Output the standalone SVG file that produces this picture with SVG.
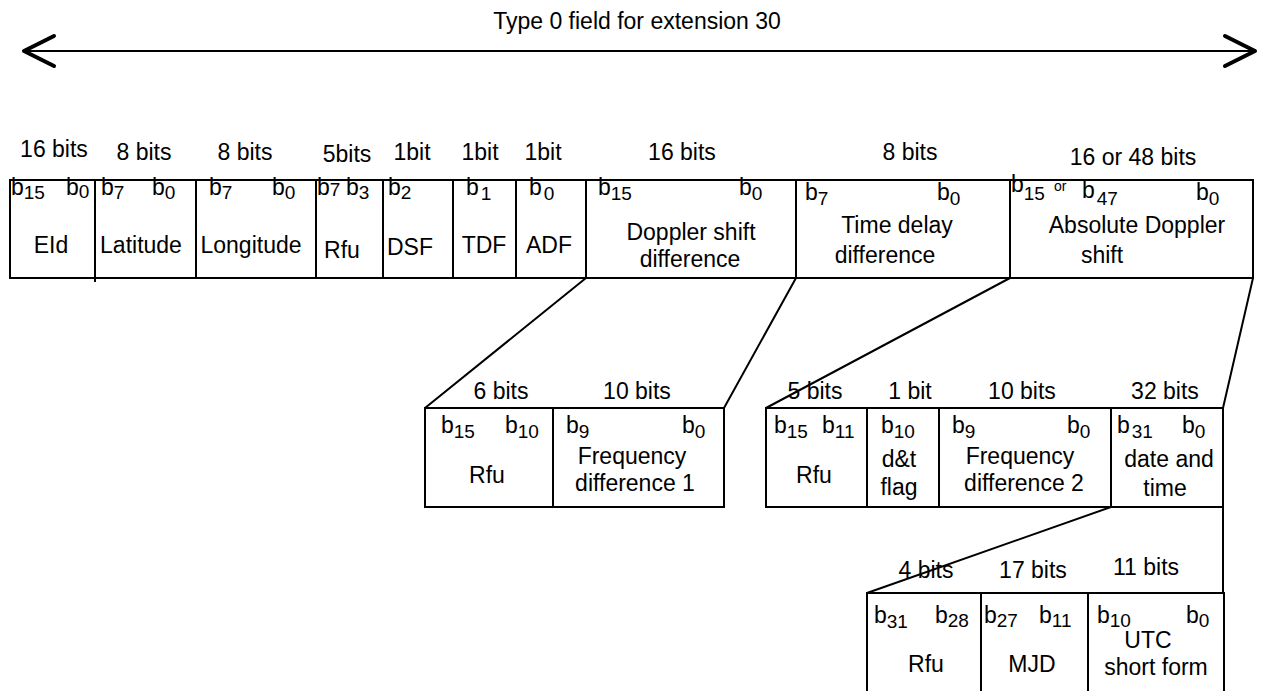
<svg xmlns="http://www.w3.org/2000/svg" width="1261" height="691" viewBox="0 0 1261 691">
<style>
text{font-family:"Liberation Sans",Arial,sans-serif;font-size:23px;fill:#000}
.m{text-anchor:middle}
.s{font-size:19px}
.o{font-size:14px}
.b{fill:none;stroke:#000;stroke-width:2}
.c{fill:none;stroke:#000;stroke-width:2}
.h{fill:none;stroke:#000;stroke-width:4;stroke-linecap:round;stroke-linejoin:round}
</style>
<g id="title">
<text class="m" x="637" y="29">Type 0 field for extension 30</text>
<line x1="25" y1="51" x2="1253" y2="51" stroke="#000" stroke-width="2"/>
<polyline class="h" points="54,36 24,51 54,66"/>
<polyline class="h" points="1225,36 1255,51 1225,66"/>
</g>
<g id="row1">
<rect class="b" x="10" y="180" width="1243" height="98"/>
<path class="b" d="M95,180V282M196,180V278M316,180V278M383,180V278M453,180V278M516,180V278M586,180V278M796,180V278M1010,180V278"/>
<text class="m" x="54" y="157">16 bits</text>
<text class="m" x="144" y="160">8 bits</text>
<text class="m" x="245" y="160">8 bits</text>
<text class="m" x="347" y="162">5bits</text>
<text class="m" x="412" y="160">1bit</text>
<text class="m" x="480" y="160">1bit</text>
<text class="m" x="543" y="160">1bit</text>
<text class="m" x="682" y="160">16 bits</text>
<text class="m" x="910" y="160">8 bits</text>
<text class="m" x="1133" y="165">16 or 48 bits</text>
</g>
<g id="eid">
<text x="11" y="195">b<tspan class="s" dy="4">15</tspan></text>
<text x="66" y="195">b<tspan class="s" dy="3">0</tspan></text>
<text class="m" x="51" y="253">EId</text>
</g>
<g id="lat">
<text x="101" y="195">b<tspan class="s" dy="4">7</tspan></text>
<text x="152" y="195">b<tspan class="s" dy="4">0</tspan></text>
<text class="m" x="141" y="253">Latitude</text>
</g>
<g id="lon">
<text x="209" y="195">b<tspan class="s" dy="4">7</tspan></text>
<text x="272" y="195">b<tspan class="s" dy="4">0</tspan></text>
<text class="m" x="251" y="253">Longitude</text>
</g>
<g id="rfu1">
<text x="317" y="195">b<tspan class="s" dy="1">7</tspan></text>
<text x="346" y="195">b<tspan class="s" dy="4">3</tspan></text>
<text class="m" x="342" y="258">Rfu</text>
</g>
<g id="dsf">
<text x="388" y="195">b<tspan class="s" dy="4">2</tspan></text>
<text class="m" x="410" y="255">DSF</text>
</g>
<g id="tdf">
<text x="466" y="195">b<tspan class="s" dx="2" dy="5">1</tspan></text>
<text class="m" x="484" y="253">TDF</text>
</g>
<g id="adf">
<text x="529" y="195">b<tspan class="s" dx="2" dy="5">0</tspan></text>
<text class="m" x="549" y="253">ADF</text>
</g>
<g id="dsd">
<text x="598" y="195">b<tspan class="s" dy="5">15</tspan></text>
<text x="739" y="195">b<tspan class="s" dy="5">0</tspan></text>
<text class="m" x="691" y="240">Doppler shift</text>
<text class="m" x="690" y="267">difference</text>
</g>
<g id="tdd">
<text x="805" y="200">b<tspan class="s" dy="5">7</tspan></text>
<text x="937" y="200">b<tspan class="s" dy="5">0</tspan></text>
<text class="m" x="897" y="233">Time delay</text>
<text class="m" x="885" y="263">difference</text>
</g>
<g id="ads">
<text x="1011" y="192">b<tspan class="s" dy="8">15</tspan></text>
<text class="o" x="1054" y="191">or</text>
<text x="1082" y="198">b<tspan class="s" dx="2" dy="7">47</tspan></text>
<text x="1196" y="200">b<tspan class="s" dy="5">0</tspan></text>
<text class="m" x="1137" y="233">Absolute Doppler</text>
<text class="m" x="1102" y="263">shift</text>
</g>
<g id="connectors">
<path class="c" d="M586,278L425,408M796,278L724,408M1010,278L766,408M1253,278L1223,408M1111,507L867,593M1223,507V593"/>
</g>
<g id="row2a">
<rect class="b" x="425" y="408" width="299" height="99"/>
<path class="b" d="M553,408V507"/>
<text class="m" x="501" y="399">6 bits</text>
<text class="m" x="637" y="399">10 bits</text>
<text x="441" y="433">b<tspan class="s" dy="5">15</tspan></text>
<text x="505" y="433">b<tspan class="s" dy="5">10</tspan></text>
<text class="m" x="487" y="483">Rfu</text>
<text x="566" y="433">b<tspan class="s" dy="5">9</tspan></text>
<text x="682" y="433">b<tspan class="s" dy="5">0</tspan></text>
<text class="m" x="632" y="464">Frequency</text>
<text class="m" x="635" y="491">difference 1</text>
</g>
<g id="row2b">
<rect class="b" x="766" y="408" width="457" height="99"/>
<path class="b" d="M867,408V507M939,408V507M1111,408V507"/>
<text class="m" x="815" y="399">5 bits</text>
<text class="m" x="910" y="399">1 bit</text>
<text class="m" x="1022" y="399">10 bits</text>
<text class="m" x="1165" y="399">32 bits</text>
<text x="774" y="433">b<tspan class="s" dy="5">15</tspan></text>
<text x="822" y="433">b<tspan class="s" dy="5">11</tspan></text>
<text class="m" x="814" y="483">Rfu</text>
<text x="881" y="433">b<tspan class="s" dy="5">10</tspan></text>
<text class="m" x="899" y="467">d&amp;t</text>
<text class="m" x="899" y="495">flag</text>
<text x="952" y="433">b<tspan class="s" dy="5">9</tspan></text>
<text x="1067" y="433">b<tspan class="s" dy="5">0</tspan></text>
<text class="m" x="1020" y="464">Frequency</text>
<text class="m" x="1024" y="491">difference 2</text>
<text x="1117" y="433">b<tspan class="s" dx="2" dy="5">31</tspan></text>
<text x="1182" y="433">b<tspan class="s" dy="5">0</tspan></text>
<text class="m" x="1169" y="467">date and</text>
<text class="m" x="1165" y="496">time</text>
</g>
<g id="row3">
<path class="b" d="M867,693V593H1224V693M981,593V693M1088,593V693"/>
<text class="m" x="926" y="578">4 bits</text>
<text class="m" x="1033" y="578">17 bits</text>
<text class="m" x="1146" y="575">11 bits</text>
<text x="874" y="623">b<tspan class="s" dy="5">31</tspan></text>
<text x="935" y="623">b<tspan class="s" dy="4">28</tspan></text>
<text class="m" x="926" y="672">Rfu</text>
<text x="984" y="623">b<tspan class="s" dy="4">27</tspan></text>
<text x="1039" y="623">b<tspan class="s" dy="4">11</tspan></text>
<text class="m" x="1032" y="672">MJD</text>
<text x="1097" y="623">b<tspan class="s" dy="4">10</tspan></text>
<text x="1186" y="623">b<tspan class="s" dy="4">0</tspan></text>
<text class="m" x="1148" y="648">UTC</text>
<text class="m" x="1156" y="675">short form</text>
</g>
</svg>
